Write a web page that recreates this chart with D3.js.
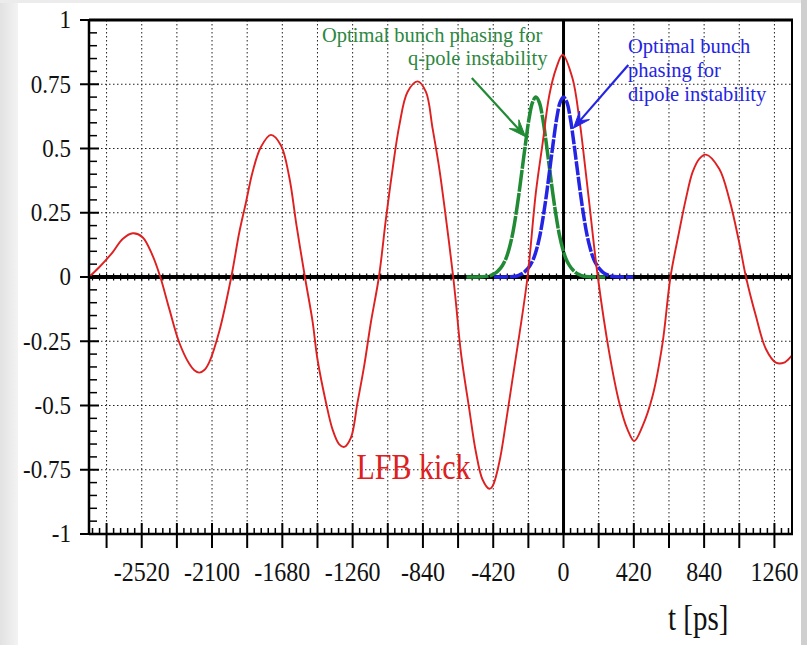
<!DOCTYPE html>
<html>
<head>
<meta charset="utf-8">
<script src="https://cdn.jsdelivr.net/npm/d3@7"></script>
<style>
  html, body { margin: 0; padding: 0; background: #fff; }
  svg { display: block; font-family: "Liberation Serif", "DejaVu Serif", serif; }
</style>
</head>
<body>
<svg id="chart" width="807" height="645"></svg>
<script>
// axis ranges (t in ps, kick normalised)
const tDomain = [-2835, 1365];
const vDomain = [-1, 1];
const xTickLabels = [-2520, -2100, -1680, -1260, -840, -420, 0, 420, 840, 1260];
const yTickLabels = [-1, -0.75, -0.5, -0.25, 0, 0.25, 0.5, 0.75, 1];
const yGrid = [-0.75, -0.5, -0.25, 0.25, 0.5, 0.75];

// LFB kick
const kickT = [-2835, -2774, -2694, -2634, -2573, -2515, -2455, -2409, -2355, -2296, -2236, -2206, -2176,
  -2146, -2117, -2057, -1985, -1937, -1897, -1858, -1808, -1748, -1688, -1639, -1595, -1545,
  -1500, -1470, -1419, -1380, -1340, -1310, -1270, -1231, -1191, -1151, -1103,
  -1061, -1021, -981, -932, -872, -822, -782, -742, -702, -659,
  -643, -613, -563, -523, -484, -444, -424, -384, -344, -305, -265, -215,
  -165, -125, -85, -45, -5, 54, 94, 113, 150, 205,
  273, 333, 382, 422, 472, 532, 591, 639,
  690, 731, 771, 811, 851, 930, 990, 1049, 1090,
  1149, 1209, 1269, 1318, 1358, 1365];
const kickV = [0, 0.038, 0.096, 0.148, 0.17, 0.155, 0.083, 0, -0.125, -0.255, -0.338, -0.363, -0.372,
  -0.362, -0.332, -0.212, 0, 0.174, 0.291, 0.408, 0.506, 0.553, 0.512, 0.39, 0.2, 0,
  -0.17, -0.32, -0.489, -0.593, -0.651, -0.661, -0.625, -0.489, -0.346, -0.177, 0,
  0.226, 0.421, 0.59, 0.72, 0.761, 0.72, 0.577, 0.421, 0.226, 0,
  -0.099, -0.294, -0.515, -0.683, -0.788, -0.824, -0.814, -0.722, -0.566, -0.398, -0.229, 0,
  0.33, 0.52, 0.707, 0.81, 0.865, 0.772, 0.616, 0.52, 0.31, 0,
  -0.294, -0.489, -0.593, -0.638, -0.58, -0.463, -0.26, 0,
  0.174, 0.304, 0.408, 0.46, 0.476, 0.421, 0.304, 0.136, 0,
  -0.151, -0.28, -0.333, -0.333, -0.31, -0.305];

// q-pole bunch phasing (green)
const qpoleT = [-580, -485, -445, -425, -405, -385, -365, -345, -325, -305, -285, -265, -245, -225, -205, -185,
  -165, -145, -125, -105, -85, -65, -45, -25, -5, 15, 35, 55, 75, 95, 115, 155, 250];
const qpoleV = [0, 0.001, 0.004, 0.009, 0.016, 0.028, 0.045, 0.07, 0.11, 0.165, 0.24, 0.33, 0.43, 0.53, 0.62, 0.68,
  0.70, 0.68, 0.62, 0.53, 0.43, 0.33, 0.24, 0.165, 0.11, 0.07, 0.045, 0.028, 0.016, 0.009, 0.004, 0.001, 0];

// dipole bunch phasing (blue)
const dipoleT = [-415, -320, -280, -260, -240, -220, -200, -180, -160, -140, -120, -100, -80, -60, -40, -20,
  0, 20, 40, 60, 80, 100, 120, 140, 160, 180, 200, 220, 240, 260, 280, 320, 415];
const dipoleV = [0, 0.001, 0.004, 0.009, 0.016, 0.028, 0.045, 0.07, 0.11, 0.165, 0.24, 0.33, 0.43, 0.53, 0.62, 0.68,
  0.70, 0.68, 0.62, 0.53, 0.43, 0.33, 0.24, 0.165, 0.11, 0.07, 0.045, 0.028, 0.016, 0.009, 0.004, 0.001, 0];

const RED = 'rgb(222,32,32)';
const GREEN = 'rgb(32,138,52)';
const BLUE = 'rgb(36,36,228)';

const svg = d3.select('#chart');
const W = 807, H = 645;

// page edges (slide background)
const bg = svg.append('defs').append('linearGradient').attr('id', 'leftfade');
bg.append('stop').attr('offset', '0%').attr('stop-color', '#e2e2e2');
bg.append('stop').attr('offset', '100%').attr('stop-color', '#f3f3f3');
svg.append('rect').attr('width', W).attr('height', H).attr('fill', '#fff');
svg.append('rect').attr('x', 0).attr('y', 0).attr('width', 18).attr('height', H).attr('fill', 'url(#leftfade)');
svg.append('rect').attr('x', 0).attr('y', 0).attr('width', W).attr('height', 3).attr('fill', '#ececec');
svg.append('rect').attr('x', 801).attr('y', 0).attr('width', 6).attr('height', H).attr('fill', '#cfcfcf');

const x = d3.scaleLinear().domain(tDomain).range([89, 792]);
const y = d3.scaleLinear().domain(vDomain).range([534, 20]);

svg.select('defs').append('clipPath').attr('id', 'plot')
  .append('rect')
  .attr('x', x(tDomain[0])).attr('y', y(1))
  .attr('width', x(tDomain[1]) - x(tDomain[0])).attr('height', y(-1) - y(1));

const g = svg.append('g');

/** dotted grid */
const xGrid = d3.range(-2730, 1261, 210).filter(t => t !== 0);
g.selectAll('.vgrid').data(xGrid).enter().append('line')
  .attr('x1', d => x(d)).attr('x2', d => x(d))
  .attr('y1', y(1)).attr('y2', y(-1))
  .style('stroke', '#222').style('stroke-width', 1).style('stroke-dasharray', '1.5,2.5');
g.selectAll('.hgrid').data(yGrid).enter().append('line')
  .attr('x1', x(tDomain[0])).attr('x2', x(tDomain[1]))
  .attr('y1', d => y(d)).attr('y2', d => y(d))
  .style('stroke', '#222').style('stroke-width', 1).style('stroke-dasharray', '1.5,2.5');

/** zero line with its small ticks */
const zeroTicks = d3.range(-2814, 1365, 42);
g.selectAll('.ztick').data(zeroTicks).enter().append('line')
  .attr('x1', d => x(d)).attr('x2', d => x(d))
  .attr('y1', y(0) - 3.5).attr('y2', y(0) + 3.5)
  .style('stroke', '#000').style('stroke-width', 1.2);
g.append('line')
  .attr('x1', x(tDomain[0])).attr('x2', x(tDomain[1]))
  .attr('y1', y(0)).attr('y2', y(0))
  .style('stroke', '#000').style('stroke-width', 4);

/** curves */
const curves = svg.append('g').attr('clip-path', 'url(#plot)');
const line = d3.line().x(d => x(d[0])).y(d => y(d[1])).curve(d3.curveCatmullRom.alpha(0.5));

curves.append('path')
  .datum(d3.zip(qpoleT, qpoleV))
  .attr('d', line)
  .style('fill', 'none').style('stroke', GREEN).style('stroke-width', 3.5)
  .style('stroke-dasharray', '22,1.2');
curves.append('path')
  .datum(d3.zip(dipoleT, dipoleV))
  .attr('d', line)
  .style('fill', 'none').style('stroke', BLUE).style('stroke-width', 3.5)
  .style('stroke-dasharray', '14,1.5');
curves.append('path')
  .datum(d3.zip(kickT, kickV))
  .attr('d', line)
  .style('fill', 'none').style('stroke', RED).style('stroke-width', 1.9);

/** t = 0 marker */
g.append('line')
  .attr('x1', x(0)).attr('x2', x(0))
  .attr('y1', y(1)).attr('y2', y(-1))
  .style('stroke', '#000').style('stroke-width', 3);

/** frame + axes */
const ax = svg.append('g').style('stroke', '#000');
ax.append('line').attr('x1', x(tDomain[0])).attr('x2', x(tDomain[1]) + 1).attr('y1', y(1)).attr('y2', y(1)).style('stroke-width', 3);
ax.append('line').attr('x1', x(tDomain[1])).attr('x2', x(tDomain[1])).attr('y1', y(1)).attr('y2', y(-1)).style('stroke-width', 2);
ax.append('line').attr('x1', x(tDomain[0])).attr('x2', x(tDomain[0])).attr('y1', y(1)).attr('y2', y(-1)).style('stroke-width', 2.5);
ax.append('line').attr('x1', x(tDomain[0])).attr('x2', x(tDomain[1]) + 1).attr('y1', y(-1)).attr('y2', y(-1)).style('stroke-width', 2.5);

// y ticks: major cross the axis, minor point inward
ax.selectAll('.ymaj').data(yTickLabels).enter().append('line')
  .attr('x1', x(tDomain[0]) - 9).attr('x2', x(tDomain[0]) + 10)
  .attr('y1', d => y(d)).attr('y2', d => y(d))
  .style('stroke-width', 2);
const yMinor = d3.range(-19, 20).map(i => i * 0.05).filter(v => Math.abs(v * 4 - Math.round(v * 4)) > 1e-6);
ax.selectAll('.ymin').data(yMinor).enter().append('line')
  .attr('x1', x(tDomain[0])).attr('x2', x(tDomain[0]) + 8)
  .attr('y1', d => y(d)).attr('y2', d => y(d))
  .style('stroke-width', 1.5);

// x ticks
const xMajor = d3.range(-2730, 1261, 210);
ax.selectAll('.xmaj').data(xMajor).enter().append('line')
  .attr('x1', d => x(d)).attr('x2', d => x(d))
  .attr('y1', y(-1) - 11).attr('y2', y(-1) + 14)
  .style('stroke-width', 2);
const xMinor = d3.range(-2814, 1365, 42).filter(t => (t + 2730) % 210 !== 0);
ax.selectAll('.xmin').data(xMinor).enter().append('line')
  .attr('x1', d => x(d)).attr('x2', d => x(d))
  .attr('y1', y(-1) - 6).attr('y2', y(-1))
  .style('stroke-width', 1.5);

/** tick labels */
svg.append('g').selectAll('text').data(yTickLabels).enter().append('text')
  .attr('transform', d => `translate(71, ${y(d)}) scale(1, 1.06)`)
  .attr('dy', '0.34em')
  .attr('text-anchor', 'end')
  .style('font-size', '23px').style('fill', '#111')
  .text(d => String(d));

svg.append('g').selectAll('text').data(xTickLabels).enter().append('text')
  .attr('transform', d => `translate(${x(d)}, 581) scale(1, 1.12)`)
  .attr('text-anchor', 'middle')
  .style('font-size', '24px').style('fill', '#111')
  .text(d => String(d));

svg.append('text')
  .attr('transform', `translate(${x(624)}, 630) scale(1, 1.22)`)
  .style('font-size', '29px').style('fill', '#111')
  .text('t [ps]');

/** annotations */
function arrow(from, to, color) {
  const x0 = x(from[0]), y0 = y(from[1]), x1 = x(to[0]), y1 = y(to[1]);
  const a = Math.atan2(y1 - y0, x1 - x0);
  const L = 17, hw = 6.5, notch = 10;
  const p = (l, w) => [x1 - l * Math.cos(a) - w * Math.sin(a), y1 - l * Math.sin(a) + w * Math.cos(a)];
  svg.append('line')
    .attr('x1', x0).attr('y1', y0).attr('x2', p(notch, 0)[0]).attr('y2', p(notch, 0)[1])
    .style('stroke', color).style('stroke-width', 2.2);
  svg.append('path')
    .attr('d', 'M' + [[x1, y1], p(L, hw), p(notch, 0), p(L, -hw)].map(q => q.join(',')).join('L') + 'Z')
    .style('fill', color).style('stroke', color).style('stroke-width', 1);
}
arrow([-548, 0.774], [-227, 0.546], GREEN);
arrow([387, 0.825], [59, 0.579], BLUE);

const note = svg.append('g').style('font-size', '20.5px');
note.append('text').attr('x', x(-1443)).attr('y', y(0.916)).style('fill', 'rgb(45,135,65)').text('Optimal bunch phasing for');
note.append('text').attr('x', x(-929)).attr('y', y(0.825)).style('fill', 'rgb(45,135,65)').text('q-pole instability');
note.append('text').attr('x', x(385)).attr('y', y(0.872)).style('fill', BLUE).text('Optimal bunch');
note.append('text').attr('x', x(385)).attr('y', y(0.778)).style('fill', BLUE).text('phasing for');
note.append('text').attr('x', x(385)).attr('y', y(0.685)).style('fill', BLUE).text('dipole instability');

svg.append('text')
  .attr('transform', `translate(${x(-1237)}, ${y(-0.786)}) scale(1, 1.2)`)
  .style('font-size', '30px').style('fill', RED)
  .text('LFB kick');
</script>
</body>
</html>
